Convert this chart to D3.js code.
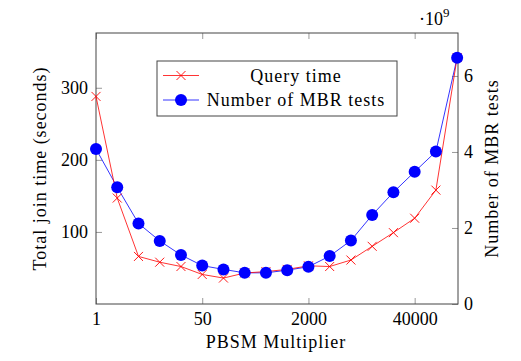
<!DOCTYPE html>
<html>
<head>
<meta charset="utf-8">
<script src="https://cdn.jsdelivr.net/npm/d3@7"></script>
<style>
  body { margin: 0; background: #fff; }
  text { font-family: "Liberation Serif", serif; fill: #000; }
  .word { letter-spacing: 1px; }
</style>
</head>
<body>
<svg id="chart"></svg>
<script>
// multiplier steps (positions on the x axis) and labelled ones
const steps = d3.range(18);
const tickSteps = [0, 5, 10, 15];
const tickLabels = ["1", "50", "2000", "40000"];

// Query time in seconds (left axis)
const queryTime = [288, 147, 66, 58, 52, 41, 36, 43, 45, 48, 53, 52, 61, 80, 99, 119, 158, 342];
// Number of MBR tests in 1e9 (right axis)
const mbrTests = [4.08, 3.07, 2.12, 1.66, 1.29, 1.01, 0.91, 0.82, 0.82, 0.89, 0.98, 1.26, 1.67, 2.34, 2.94, 3.48, 4.01, 6.48];

const leftTicks = [100, 200, 300];
const rightTicks = [0, 2, 4, 6];

const svg = d3.select("#chart").attr("width", 521).attr("height", 361);

const plotLeft = 96, plotRight = 458, plotTop = 33, plotBottom = 304;
const fontSize = 18;

const xScale = d3.scaleLinear().domain([0, 17.04]).range([plotLeft, plotRight]);
const yLeft = d3.scaleLinear().domain([0, 376]).range([plotBottom, plotTop]);
const yRight = d3.scaleLinear().domain([0, 7.13]).range([plotBottom, plotTop]);

const tickLen = 6;
const tickColor = "#999";

// x ticks, bottom and top, pointing inward
svg.append("g")
  .attr("transform", `translate(0, ${plotBottom})`)
  .call(d3.axisBottom(xScale).tickValues(tickSteps).tickSize(-tickLen).tickPadding(8)
    .tickFormat((d, i) => tickLabels[i]));
svg.append("g")
  .attr("transform", `translate(0, ${plotTop})`)
  .call(d3.axisTop(xScale).tickValues(tickSteps).tickSize(-tickLen).tickFormat(""));

// left y axis
svg.append("g")
  .attr("transform", `translate(${plotLeft}, 0)`)
  .call(d3.axisLeft(yLeft).tickValues(leftTicks).tickSize(-tickLen).tickPadding(8));

// right y axis
svg.append("g")
  .attr("transform", `translate(${plotRight}, 0)`)
  .call(d3.axisRight(yRight).tickValues(rightTicks).tickSize(-tickLen).tickPadding(6));

svg.selectAll(".domain").remove();
svg.selectAll(".tick line").attr("stroke", tickColor);
svg.selectAll(".tick text").attr("font-size", fontSize).attr("font-family", "Liberation Serif");

// frame
svg.append("rect")
  .attr("x", plotLeft).attr("y", plotTop)
  .attr("width", plotRight - plotLeft).attr("height", plotBottom - plotTop)
  .attr("fill", "none").attr("stroke", "#444").attr("stroke-width", 1);

// Number of MBR tests line (blue)
const blueLine = d3.line().x((d, i) => xScale(steps[i])).y((d) => yRight(d));
svg.append("path").datum(mbrTests)
  .attr("d", blueLine).attr("fill", "none").attr("stroke", "#0000ff").attr("stroke-width", 0.8);

// Query time line (red)
const redLine = d3.line().x((d, i) => xScale(steps[i])).y((d) => yLeft(d));
svg.append("path").datum(queryTime)
  .attr("d", redLine).attr("fill", "none").attr("stroke", "#ff0000").attr("stroke-width", 0.8);

const cross = (g, x, y, s) => {
  g.append("path")
    .attr("d", `M${x - s},${y - s}L${x + s},${y + s}M${x - s},${y + s}L${x + s},${y - s}`)
    .attr("stroke", "#ff0000").attr("stroke-width", 0.9).attr("fill", "none");
};

// red crosses
const crosses = svg.append("g");
queryTime.forEach((d, i) => cross(crosses, xScale(steps[i]), yLeft(d), 4.5));

// blue circles
svg.append("g").selectAll("circle").data(mbrTests).join("circle")
  .attr("cx", (d, i) => xScale(steps[i]))
  .attr("cy", (d) => yRight(d))
  .attr("r", 6)
  .attr("fill", "#0000ff");

// legend
const legend = svg.append("g");
legend.append("rect")
  .attr("x", 157).attr("y", 61).attr("width", 240).attr("height", 55)
  .attr("fill", "#fff").attr("stroke", "#444");
legend.append("line").attr("x1", 163).attr("x2", 199).attr("y1", 75.5).attr("y2", 75.5)
  .attr("stroke", "#ff0000").attr("stroke-width", 0.8);
cross(legend, 181, 75.5, 4.5);
legend.append("line").attr("x1", 163).attr("x2", 199).attr("y1", 100).attr("y2", 100)
  .attr("stroke", "#0000ff").attr("stroke-width", 0.8);
legend.append("circle").attr("cx", 181).attr("cy", 100).attr("r", 6).attr("fill", "#0000ff");
legend.append("text").attr("class", "word").attr("x", 296).attr("y", 81.5).attr("text-anchor", "middle")
  .attr("font-size", fontSize).text("Query time");
legend.append("text").attr("class", "word").attr("x", 296).attr("y", 106).attr("text-anchor", "middle")
  .attr("font-size", fontSize).text("Number of MBR tests");

// axis titles
svg.append("text").attr("class", "word").attr("x", (plotLeft + plotRight) / 2 - 1).attr("y", 348)
  .attr("text-anchor", "middle").attr("font-size", fontSize).text("PBSM Multiplier");
svg.append("text").attr("class", "word")
  .attr("transform", `translate(46, ${(plotTop + plotBottom) / 2}) rotate(-90)`)
  .attr("text-anchor", "middle").attr("font-size", fontSize).text("Total join time (seconds)");
svg.append("text").attr("class", "word")
  .attr("transform", `translate(498, ${(plotTop + plotBottom) / 2}) rotate(-90)`)
  .attr("text-anchor", "middle").attr("font-size", fontSize).text("Number of MBR tests");

// exponent label
const expo = svg.append("text").attr("x", 419).attr("y", 25).attr("font-size", fontSize);
expo.append("tspan").text("·10");
expo.append("tspan").attr("dy", -8).attr("font-size", 13).text("9");
</script>
</body>
</html>
